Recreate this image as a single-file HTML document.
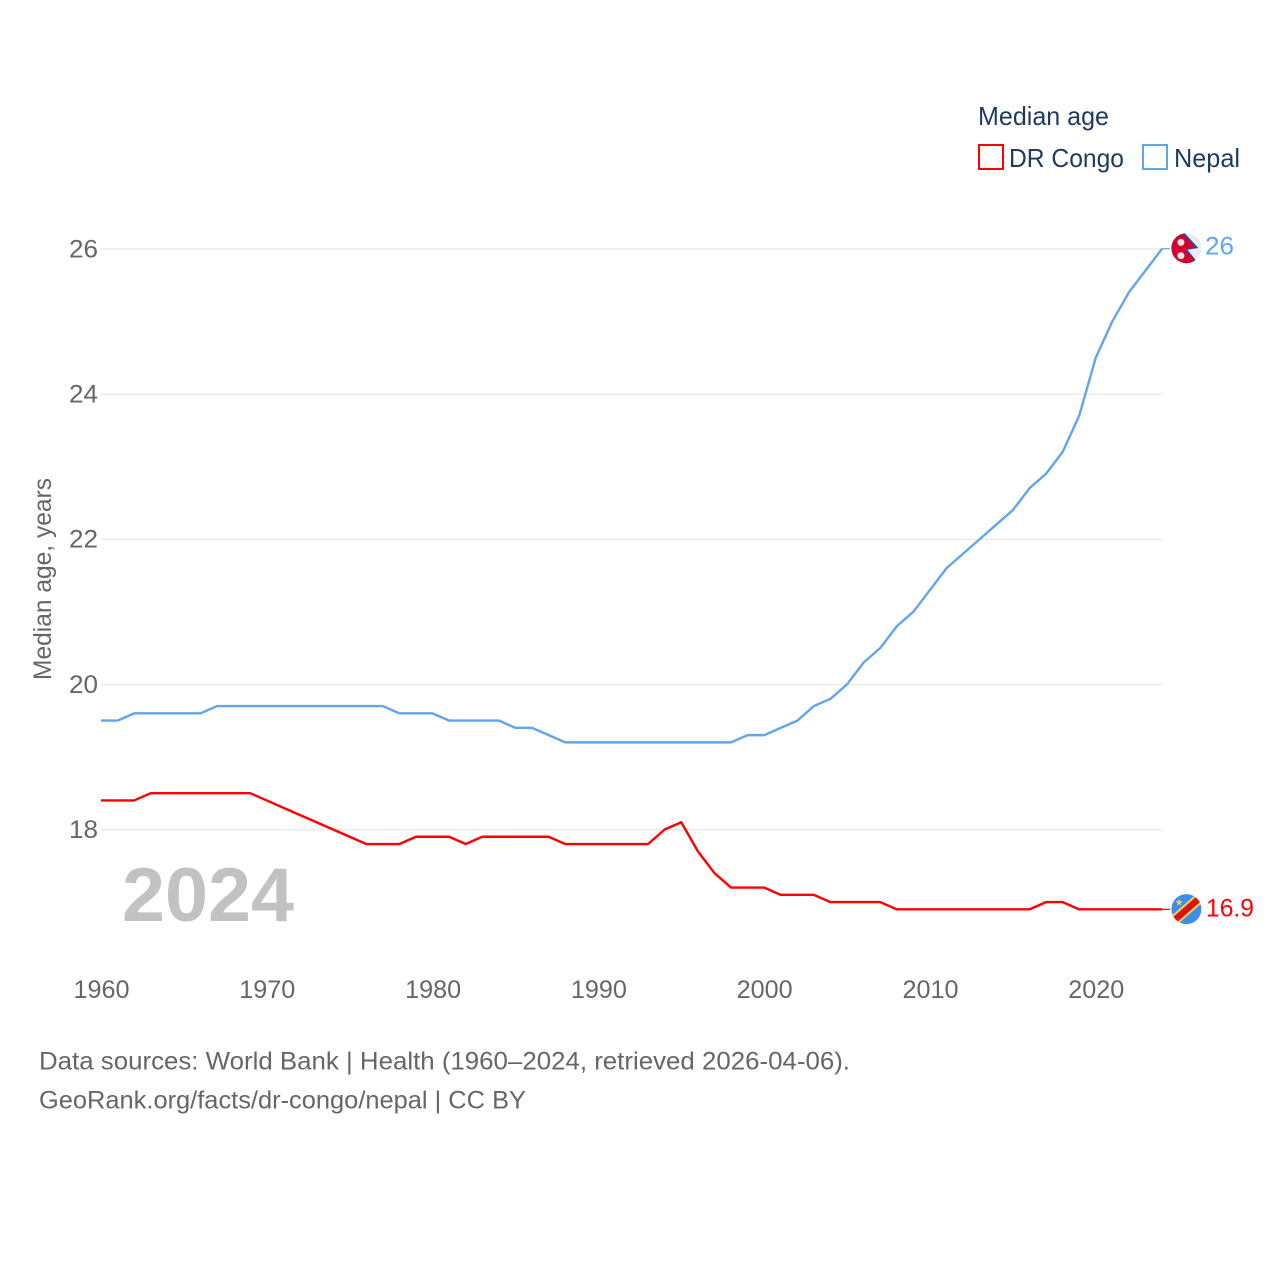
<!DOCTYPE html>
<html lang="en">
<head>
<meta charset="utf-8">
<title>Median age: DR Congo and Nepal</title>
<style>
html,body{margin:0;padding:0;background:#fff;}
svg{display:block;}
text{font-family:"Liberation Sans",sans-serif;}
</style>
</head>
<body>
<svg id="chart" xmlns="http://www.w3.org/2000/svg" width="1280" height="1280" viewBox="0 0 1280 1280">
  <defs>
    <clipPath id="clip-np"><circle cx="0" cy="0" r="15"/></clipPath>
    <clipPath id="clip-cd"><circle cx="0" cy="0" r="15"/></clipPath>
  </defs>
  <rect width="1280" height="1280" fill="#fff"/>

  <g>
    <text x="978" y="125" font-size="26" fill="#1f3a5f" textLength="131" lengthAdjust="spacingAndGlyphs">Median age</text>
    <g>
      <rect x="979" y="145" width="24" height="24" fill="none" stroke="#ff0000" stroke-width="2"/>
      <text x="1009" y="167" font-size="26" fill="#1f3a5f" textLength="115" lengthAdjust="spacingAndGlyphs">DR Congo</text>
    </g>
    <g>
      <rect x="1143" y="145" width="24" height="24" fill="none" stroke="#60a5ee" stroke-width="2"/>
      <text x="1174" y="167" font-size="26" fill="#1f3a5f" textLength="66" lengthAdjust="spacingAndGlyphs">Nepal</text>
    </g>
  </g>

  <g id="grid"></g>
  <g id="yticks"></g>
  <g id="xticks"></g>

  <text transform="translate(51,680) rotate(-90)" font-size="25" fill="#666666" textLength="202" lengthAdjust="spacingAndGlyphs">Median age, years</text>

  <text x="122" y="921" font-size="76" font-weight="700" fill="#c2c2c2" textLength="172" lengthAdjust="spacingAndGlyphs">2024</text>

  <g id="series"></g>

  <g id="flag-np">
    <g clip-path="url(#clip-np)">
      <rect x="-16" y="-16" width="32" height="32" fill="#ececf0"/>
      <polygon points="-16,-17 -3.5,-17 12,-0.2 1,1.5 11,14 10,17 -16,17" fill="#1f4fa8"/>
      <polygon points="-16,-17 -5,-15.5 9.5,-0.5 -2,1 8.5,12.5 7.5,17 -16,17" fill="#d6002f"/>
      <circle cx="-5.5" cy="-5.8" r="3.5" fill="#f8e6e6"/>
      <circle cx="-5.5" cy="7.5" r="3.5" fill="#f8e6e6"/>
    </g>
  </g>
  <g id="flag-cd">
    <g clip-path="url(#clip-cd)">
      <rect x="-16" y="-16" width="32" height="32" fill="#3b8df0"/>
      <line x1="-16" y1="14.5" x2="16" y2="-13.5" stroke="#f5d73c" stroke-width="10.5"/>
      <line x1="-16" y1="14.5" x2="16" y2="-13.5" stroke="#d9141e" stroke-width="6.5"/>
    </g>
    <polygon points="-7.3,-10.5 -6.4,-8 -3.6,-8 -5.8,-6.2 -5,-3.4 -7.3,-5 -9.6,-3.4 -8.8,-6.2 -11,-8 -8.2,-8" fill="#f5d73c"/>
  </g>

  <text id="value-np" x="1205" y="255" font-size="25" fill="#60a5ee" textLength="29" lengthAdjust="spacingAndGlyphs"></text>
  <text id="value-cd" x="1206" y="916" font-size="25" fill="#ff0000" textLength="48" lengthAdjust="spacingAndGlyphs"></text>

  <g>
    <text x="39" y="1069.5" font-size="25" fill="#666666" textLength="811" lengthAdjust="spacingAndGlyphs">Data sources: World Bank | Health (1960–2024, retrieved 2026-04-06).</text>
    <text x="39" y="1108.5" font-size="25" fill="#666666" textLength="487" lengthAdjust="spacingAndGlyphs">GeoRank.org/facts/dr-congo/nepal | CC BY</text>
  </g>
</svg>

<script>
const startYear = 1960;
const xTickLabels = [1960, 1970, 1980, 1990, 2000, 2010, 2020];
const yTickLabels = [18, 20, 22, 24, 26];
const nepalValues = [19.5,19.5,19.6,19.6,19.6,19.6,19.6,19.7,19.7,19.7,19.7,19.7,19.7,19.7,19.7,19.7,19.7,19.7,19.6,19.6,19.6,19.5,19.5,19.5,19.5,19.4,19.4,19.3,19.2,19.2,19.2,19.2,19.2,19.2,19.2,19.2,19.2,19.2,19.2,19.3,19.3,19.4,19.5,19.7,19.8,20.0,20.3,20.5,20.8,21.0,21.3,21.6,21.8,22.0,22.2,22.4,22.7,22.9,23.2,23.7,24.5,25.0,25.4,25.7,26.0];
const congoValues = [18.4,18.4,18.4,18.5,18.5,18.5,18.5,18.5,18.5,18.5,18.4,18.3,18.2,18.1,18.0,17.9,17.8,17.8,17.8,17.9,17.9,17.9,17.8,17.9,17.9,17.9,17.9,17.9,17.8,17.8,17.8,17.8,17.8,17.8,18.0,18.1,17.7,17.4,17.2,17.2,17.2,17.1,17.1,17.1,17.0,17.0,17.0,17.0,16.9,16.9,16.9,16.9,16.9,16.9,16.9,16.9,16.9,17.0,17.0,16.9,16.9,16.9,16.9,16.9,16.9];

const NS = 'http://www.w3.org/2000/svg';
function xScale(year) { return 101 + (year - 1960) * 16.58; }
function yScale(v) { return 248.7 + (26 - v) * 72.6; }
function make(tag, attrs, parent) {
  const el = document.createElementNS(NS, tag);
  for (const k in attrs) el.setAttribute(k, attrs[k]);
  parent.appendChild(el);
  return el;
}
const lastYear = startYear + nepalValues.length - 1;

yTickLabels.forEach(function (t) {
  const line = make('line', {x1: xScale(startYear), x2: xScale(lastYear), y1: yScale(t) + 0.3, y2: yScale(t) + 0.3, stroke: '#ebebeb', 'stroke-width': 1.5}, document.getElementById('grid'));
  
  
  const label = make('text', {x: 69, y: yScale(t) + 8.6, 'font-size': 25, fill: '#666666', textLength: 29, lengthAdjust: 'spacingAndGlyphs'}, document.getElementById('yticks'));
  
  
  label.textContent = t;
});

xTickLabels.forEach(function (t) {
  const label = make('text', {x: xScale(t) - 27.5, y: 998, 'font-size': 25, fill: '#666666', textLength: 56, lengthAdjust: 'spacingAndGlyphs'}, document.getElementById('xticks'));
  
  
  label.textContent = t;
});

function pathFor(values) {
  return values.map(function (v, i) {
    return (i ? 'L' : 'M') + xScale(startYear + i).toFixed(2) + ' ' + yScale(v).toFixed(2);
  }).join(' ');
}

const seriesGroup = document.getElementById('series');
const nepalLine = make('path', {d: pathFor(nepalValues), fill: 'none', stroke: '#60a5ee', 'stroke-width': 2.4, 'stroke-linejoin': 'round'}, seriesGroup);


const congoLine = make('path', {d: pathFor(congoValues), fill: 'none', stroke: '#ff0000', 'stroke-width': 2.4, 'stroke-linejoin': 'round'}, seriesGroup);



const nepalLast = nepalValues[nepalValues.length - 1];
const congoLast = congoValues[congoValues.length - 1];
const nepalConnector = make('line', {x1: xScale(lastYear), x2: xScale(lastYear) + 8, y1: yScale(nepalLast), y2: yScale(nepalLast), stroke: '#60a5ee', 'stroke-width': 1.2}, seriesGroup);


const congoConnector = make('line', {x1: xScale(lastYear), x2: xScale(lastYear) + 8, y1: yScale(congoLast), y2: yScale(congoLast), stroke: '#ff0000', 'stroke-width': 1.2}, seriesGroup);



const flagX = xScale(lastYear) + 24.3;
document.getElementById('flag-np').setAttribute('transform', 'translate(' + flagX + ',' + (yScale(nepalLast) - 0.5) + ')');
document.getElementById('flag-cd').setAttribute('transform', 'translate(' + flagX + ',' + (yScale(congoLast) - 0.2) + ')');

const valueNp = document.getElementById('value-np');
valueNp.setAttribute('y', yScale(nepalLast) + 6);
valueNp.textContent = nepalLast;
const valueCd = document.getElementById('value-cd');
valueCd.setAttribute('y', yScale(congoLast) + 7);
valueCd.textContent = congoLast;
</script>
</body>
</html>
